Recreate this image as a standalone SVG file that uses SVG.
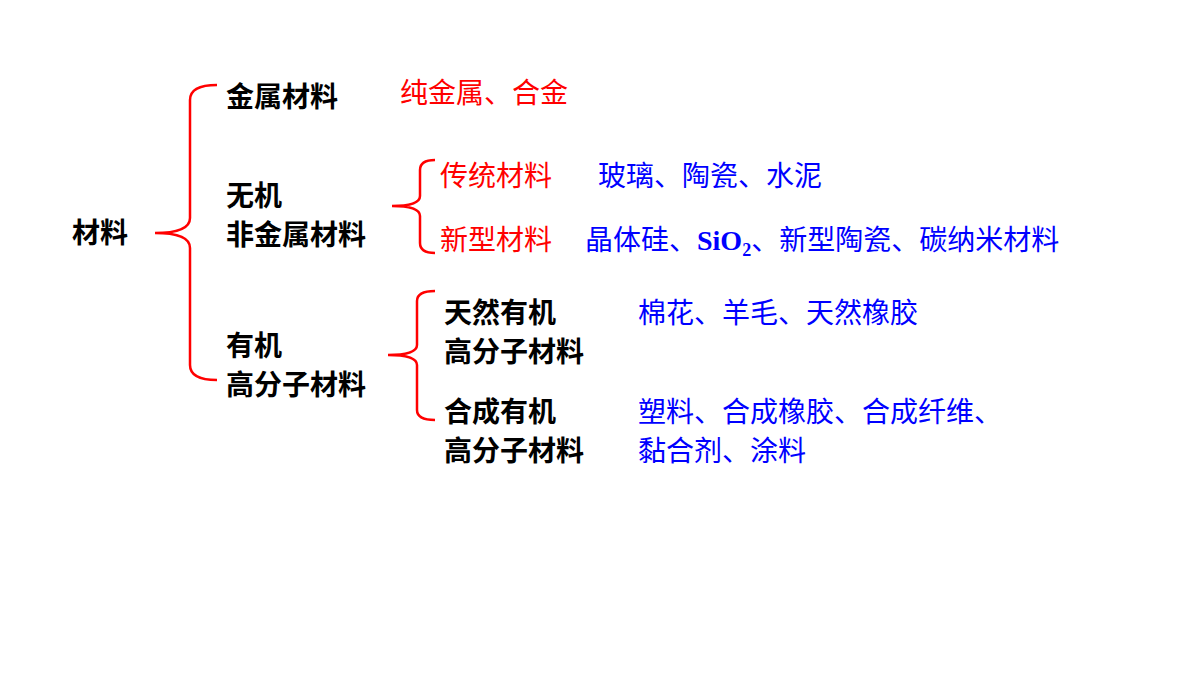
<svg xmlns="http://www.w3.org/2000/svg" width="1200" height="675" viewBox="0 0 1200 675">
<style>
.b{font-family:"Noto Sans CJK SC","Liberation Sans",sans-serif;font-weight:bold;font-size:28px;fill:#000}
.r{font-family:"Noto Sans CJK SC","Liberation Serif",serif;font-size:28px;fill:#f00}
.u{font-family:"Noto Sans CJK SC","Liberation Serif",serif;font-size:28px;fill:#00f}
.br{fill:none;stroke:#f00;stroke-width:2.5}
</style>
<rect width="1200" height="675" fill="#fff"/>
<g id="connectors">
<path class="br" d="M217,85 Q190,85 190,100 L190,218 Q190,233 155,233 Q190,233 190,248 L190,365 Q190,380 217,380"/>
<path class="br" d="M435,160 Q420,160 420,170 L420,196 Q420,206 392,206 Q420,206 420,216 L420,243 Q420,253 435,253"/>
<path class="br" d="M435,291 Q417,291 417,301 L417,345 Q417,355 388,355 Q417,355 417,365 L417,410 Q417,420 435,420"/>
</g>
<g id="root"><text class="b" x="72" y="243">材料</text></g>
<g id="metal"><text class="b" x="226" y="107">金属材料</text><text class="r" x="400" y="103">纯金属、合金</text></g>
<g id="inorganic"><text class="b" x="226" y="206">无机</text><text class="b" x="226" y="245">非金属材料</text></g>
<g id="traditional"><text class="r" x="440" y="186">传统材料</text><text class="u" x="598" y="186">玻璃、陶瓷、水泥</text></g>
<g id="newtype"><text class="r" x="440" y="250">新型材料</text><text class="u" x="585" y="250">晶体硅、<tspan font-family="Liberation Serif" font-weight="bold">SiO<tspan font-size="18" dy="6">2</tspan></tspan><tspan dy="-6">、新型陶瓷、碳纳米材料</tspan></text></g>
<g id="organic"><text class="b" x="226" y="356">有机</text><text class="b" x="226" y="395">高分子材料</text></g>
<g id="natural"><text class="b" x="444" y="323">天然有机</text><text class="b" x="444" y="362">高分子材料</text><text class="u" x="638" y="323">棉花、羊毛、天然橡胶</text></g>
<g id="synthetic"><text class="b" x="444" y="422">合成有机</text><text class="b" x="444" y="461">高分子材料</text><text class="u" x="638" y="422">塑料、合成橡胶、合成纤维、</text><text class="u" x="638" y="461">黏合剂、涂料</text></g>
</svg>
